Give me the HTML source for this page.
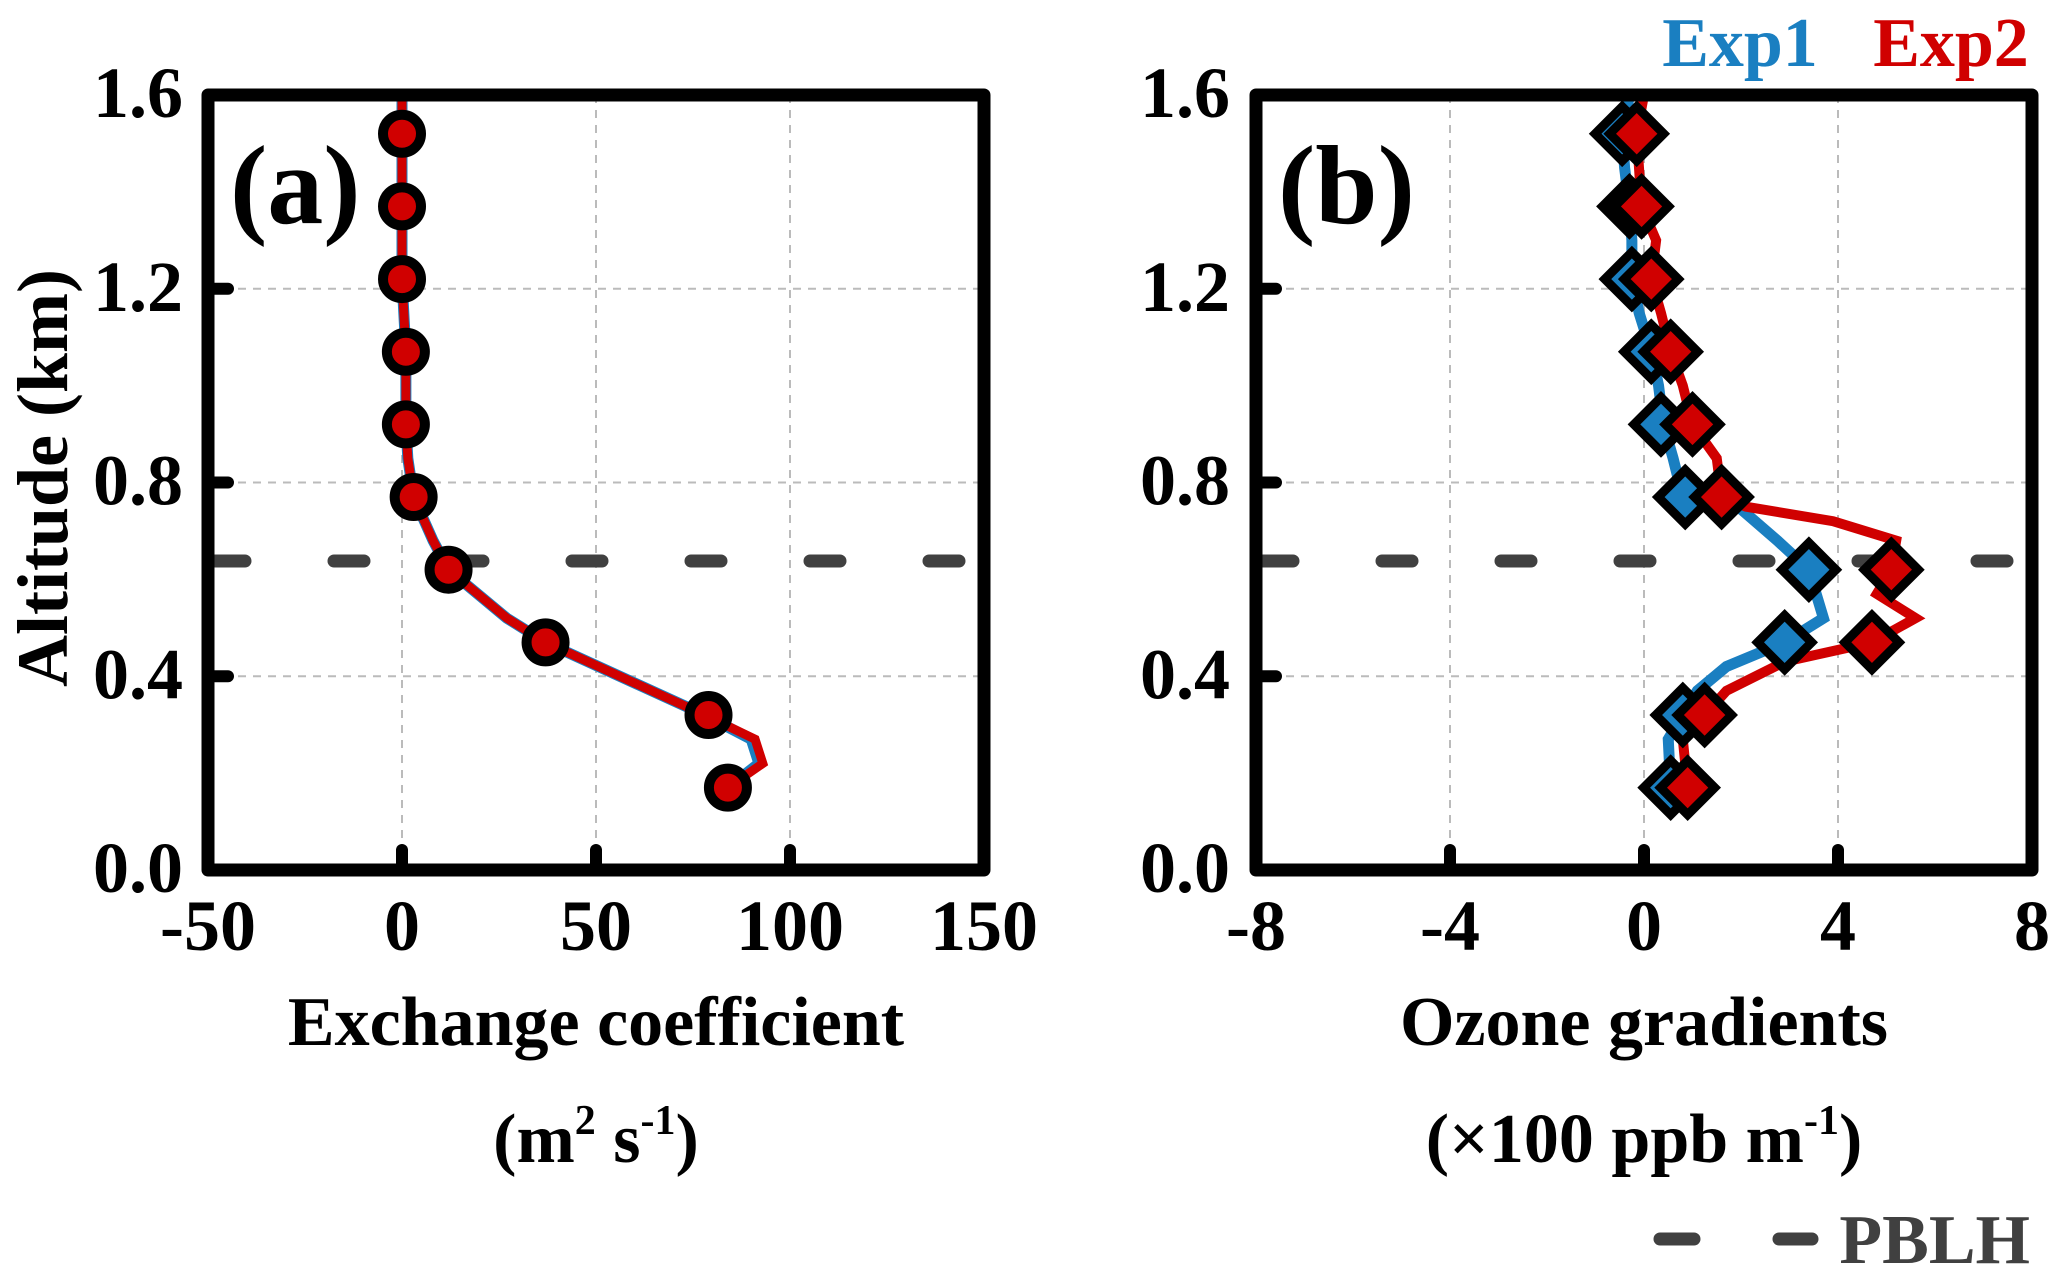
<!DOCTYPE html>
<html><head><meta charset="utf-8"><style>
html,body{margin:0;padding:0;background:#fff;}
svg{display:block;}
text{font-family:"Liberation Serif",serif;font-weight:bold;}
</style></head><body>
<svg id="fig" width="2067" height="1283" viewBox="0 0 2067 1283"></svg>
<script>
// Panel (a) data
const altLevels = [1.52,1.37,1.22,1.07,0.92,0.77,0.62,0.47,0.32,0.17];
const kMarkers = [0,0,0,1,1,3,12,37,79,84];
const kLineAlt = [1.6,1.52,1.37,1.22,1.07,0.92,0.85,0.77,0.68,0.62,0.52,0.47,0.32,0.27,0.22,0.17];
const kLineExp1 = [0,0,0,0,1,1,1.5,3,8,12,27,37,78,90,92,84];
const kLineExp2 = [0,0,0,0,1,1,1.5,3,8,12,27,37,78,91,93,84];
const aTicksX = [-50,0,50,100,150];
// Panel (b) data
const o3Exp1Markers = [-0.45,-0.3,-0.25,0.15,0.35,0.85,3.4,2.9,0.8,0.55];
const o3Exp2Markers = [-0.15,-0.05,0.15,0.55,1.0,1.6,5.1,4.7,1.25,0.9];
const o3Exp1Alt = [1.6,1.52,1.45,1.37,1.3,1.22,1.15,1.07,1.0,0.92,0.85,0.77,0.745,0.68,0.62,0.52,0.47,0.42,0.37,0.32,0.27,0.17];
const o3Exp1 = [-0.3,-0.45,-0.4,-0.3,-0.25,-0.25,-0.1,0.15,0.3,0.4,0.6,0.8,2.0,2.75,3.4,3.7,2.9,1.7,1.1,0.8,0.5,0.55];
const o3Exp2Alt = [1.6,1.52,1.37,1.3,1.22,1.15,1.07,1.0,0.92,0.85,0.77,0.75,0.72,0.68,0.62,0.57,0.52,0.47,0.43,0.37,0.32,0.27,0.17];
const o3Exp2 = [0,-0.15,-0.05,0.25,0.15,0.35,0.55,0.8,1.0,1.5,1.6,2.1,3.9,5.2,5.1,4.8,5.6,4.7,2.9,1.7,1.25,0.8,0.9];
const bTicksX = [-8,-4,0,4,8];
const yTicks = [0,0.4,0.8,1.2,1.6];
const pblh = 0.638;

const NS="http://www.w3.org/2000/svg";
const svg=document.getElementById('fig');
function mk(tag,attrs,parent){const e=document.createElementNS(NS,tag);for(const k in attrs)e.setAttribute(k,attrs[k]);(parent||svg).appendChild(e);return e;}
const yTop=95,yBot=870;
const yS=a=>yBot-(a/1.6)*(yBot-yTop);

function panel(id,L,R,xmin,xmax,xt,letter,title1,title2html,ylabX){
  const xS=v=>L+(v-xmin)/(xmax-xmin)*(R-L);
  const g=mk('g',{});
  
  
  xt.forEach(v=>{if(v>xmin&&v<xmax){const l=mk('line',{x1:xS(v),x2:xS(v),y1:yTop,y2:yBot,stroke:'#bbb','stroke-width':2,'stroke-dasharray':'8,7'},g);}});
  yTicks.forEach(v=>{if(v>0&&v<1.6){const l=mk('line',{x1:L,x2:R,y1:yS(v),y2:yS(v),stroke:'#bbb','stroke-width':2,'stroke-dasharray':'8,7'},g);}});
  xt.forEach(v=>{const l=mk('line',{x1:xS(v),x2:xS(v),y1:yBot,y2:yBot-20,stroke:'#000','stroke-width':12,'stroke-linecap':'round'},g);
    const t=mk('text',{x:xS(v),y:950,'font-size':72,'text-anchor':'middle'},g);t.textContent=(v<0?'-':'')+Math.abs(v);});
  yTicks.forEach(v=>{const l=mk('line',{x1:L,x2:L+20,y1:yS(v),y2:yS(v),stroke:'#000','stroke-width':12,'stroke-linecap':'round'},g);
    const t=mk('text',{x:ylabX,y:yS(v)+22,'font-size':72,'text-anchor':'end'},g);t.textContent=v.toFixed(1);});
  const p=mk('line',{x1:L+7,x2:R-20,y1:yS(pblh),y2:yS(pblh),stroke:'#404040','stroke-width':13,'stroke-dasharray':'30,89','stroke-linecap':'round'},g);
  
  const lt=mk('text',{x:L+22,y:223,'font-size':112},g);lt.textContent=letter;
  const cx=(L+R)/2;
  const t1=mk('text',{x:cx,y:1045,'font-size':70,'text-anchor':'middle'},g);t1.textContent=title1;
  const t2=mk('text',{x:cx,y:1162,'font-size':70,'text-anchor':'middle'},g);t2.innerHTML=title2html;
  return {g,xS,L,R};
}
function frame(P){const r=mk('rect',{x:P.L,y:yTop,width:P.R-P.L,height:yBot-yTop,fill:'none',stroke:'#000','stroke-width':13,'stroke-linejoin':'round'},P.g);}
function line(P,xs,alts,color,w,name){const d=xs.map((v,i)=>(i?'L':'M')+P.xS(v)+','+yS(alts[i])).join(' ');const e=mk('path',{d,fill:'none',stroke:color,'stroke-width':w,'stroke-linejoin':'miter'},P.g);}

const A=panel('a',208,984,-50,150,aTicksX,'(a)','Exchange coefficient','(m<tspan dy="-28" font-size="42">2</tspan><tspan dy="28"> s</tspan><tspan dy="-28" font-size="42">-1</tspan><tspan dy="28">)</tspan>',183);
line(A,kLineExp1,kLineAlt,'#1a7fc1',11,'exp1-line-a');
line(A,kLineExp2,kLineAlt,'#d00000',9,'exp2-line-a');
altLevels.forEach((a,i)=>{const c=mk('circle',{cx:A.xS(kMarkers[i]),cy:yS(a),r:19,fill:'#d00000',stroke:'#000','stroke-width':10},A.g);});
frame(A);

const B=panel('b',1256,2032,-8,8,bTicksX,'(b)','Ozone gradients','(×100 ppb m<tspan dy="-28" font-size="42">-1</tspan><tspan dy="28">)</tspan>',1230);
line(B,o3Exp1,o3Exp1Alt,'#1a7fc1',11,'exp1-line-b');
line(B,o3Exp2,o3Exp2Alt,'#d00000',10,'exp2-line-b');
function diamond(x,y,fill,name){const s=27;const e=mk('path',{d:`M${x-s},${y} L${x},${y-s} L${x+s},${y} L${x},${y+s} Z`,fill,stroke:'#000','stroke-width':9,'stroke-linejoin':'miter'},B.g);}
altLevels.forEach((a,i)=>diamond(B.xS(o3Exp1Markers[i]),yS(a),'#1a7fc1','marker-exp1'));
altLevels.forEach((a,i)=>diamond(B.xS(o3Exp2Markers[i]),yS(a),'#d00000','marker-exp2'));
frame(B);

const yt=mk('text',{x:0,y:0,'font-size':72,'text-anchor':'middle',transform:'translate(67,478) rotate(-90)'});
yt.textContent='Altitude (km)';


const l1=mk('text',{x:1740,y:66,'font-size':70,'text-anchor':'middle',fill:'#1a7fc1'});l1.textContent='Exp1';


const l2=mk('text',{x:1951,y:66,'font-size':70,'text-anchor':'middle',fill:'#d00000'});l2.textContent='Exp2';


const pl=mk('line',{x1:1660,x2:1812,y1:1239,y2:1239,stroke:'#404040','stroke-width':13,'stroke-dasharray':'34,85','stroke-linecap':'round'});


const pt=mk('text',{x:2030,y:1263,'font-size':70,'text-anchor':'end',fill:'#404040'});pt.textContent='PBLH';


</script>
</body></html>
